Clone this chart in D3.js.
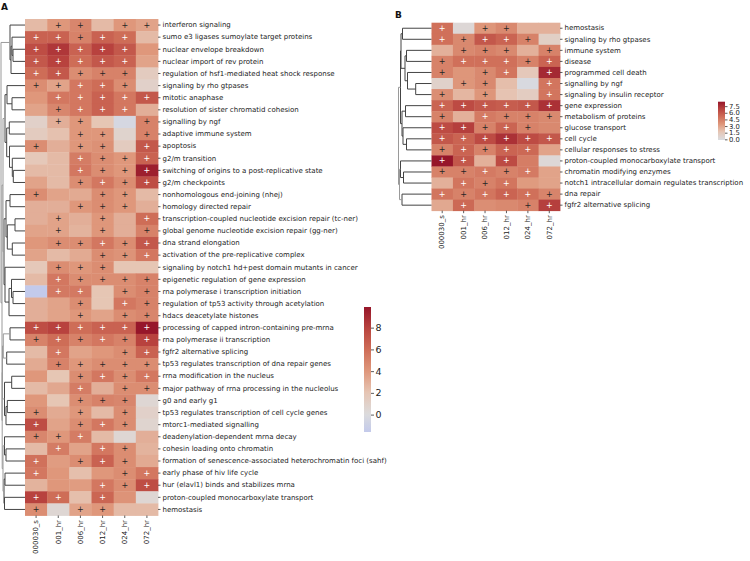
<!DOCTYPE html>
<html><head><meta charset="utf-8">
<script src="https://cdn.jsdelivr.net/npm/d3@7"></script>
<style>body{margin:0;background:#fff} svg{font-family:"DejaVu Sans",sans-serif}</style>
</head><body><svg id="c" width="750" height="561"></svg>
<script>
const timepoints = ["000030_s","001_hr","006_hr","012_hr","024_hr","072_hr"];

const pathwaysA = [
"interferon signaling","sumo e3 ligases sumoylate target proteins","nuclear envelope breakdown",
"nuclear import of rev protein","regulation of hsf1-mediated heat shock response","signaling by rho gtpases",
"mitotic anaphase","resolution of sister chromatid cohesion","signalling by ngf","adaptive immune system",
"apoptosis","g2/m transition","switching of origins to a post-replicative state","g2/m checkpoints",
"nonhomologous end-joining (nhej)","homology directed repair",
"transcription-coupled nucleotide excision repair (tc-ner)","global genome nucleotide excision repair (gg-ner)",
"dna strand elongation","activation of the pre-replicative complex",
"signaling by notch1 hd+pest domain mutants in cancer","epigenetic regulation of gene expression",
"rna polymerase i transcription initiation","regulation of tp53 activity through acetylation",
"hdacs deacetylate histones","processing of capped intron-containing pre-mrna","rna polymerase ii transcription",
"fgfr2 alternative splicing","tp53 regulates transcription of dna repair genes","rrna modification in the nucleus",
"major pathway of rrna processing in the nucleolus","g0 and early g1",
"tp53 regulates transcription of cell cycle genes","mtorc1-mediated signalling",
"deadenylation-dependent mrna decay","cohesin loading onto chromatin",
"formation of senescence-associated heterochromatin foci (sahf)","early phase of hiv life cycle",
"hur (elavl1) binds and stabilizes mrna","proton-coupled monocarboxylate transport","hemostasis"];

const valuesA = [
[2.5,4.0,4.8,2.5,4.0,3.5],[6.5,6.5,5.0,6.5,6.0,2.5],[7.5,8.5,6.5,8.0,7.0,4.0],[7.0,8.0,6.0,7.0,6.5,3.5],
[6.0,7.0,4.5,5.0,5.0,1.5],[4.5,3.5,5.5,6.0,4.5,1.0],[4.0,5.5,5.5,6.5,5.5,7.0],[3.5,4.8,5.5,6.5,5.5,3.0],
[1.0,3.0,4.0,2.0,-0.4,5.0],[1.5,2.2,4.0,4.0,0.8,5.0],[4.5,3.0,4.0,4.3,1.5,7.0],[1.8,2.5,5.3,4.5,4.0,6.5],
[2.5,2.5,5.5,4.5,4.0,9.5],[3.5,2.5,4.5,5.5,4.5,7.5],[4.5,3.5,3.2,4.5,4.0,2.5],[3.0,3.0,4.0,4.5,4.0,3.0],
[3.0,3.5,3.0,4.0,3.0,6.0],[3.5,3.5,2.8,4.0,3.0,5.0],[4.0,4.5,4.5,5.5,4.5,7.0],[3.5,2.5,3.2,4.5,4.2,5.5],
[1.8,4.5,4.0,4.5,2.0,2.0],[2.5,5.5,4.5,4.5,4.5,5.0],[-1.6,5.4,5.4,2.0,4.5,5.0],[3.0,3.5,4.5,2.0,5.5,5.0],
[3.0,3.5,4.0,3.5,4.5,4.8],[7.5,8.0,6.0,6.5,6.5,9.9],[5.0,6.0,5.0,5.5,5.0,8.0],[2.5,5.5,3.5,4.0,4.5,6.5],
[3.2,5.0,4.0,4.5,4.5,4.5],[4.0,2.0,4.5,5.5,4.5,5.5],[2.5,3.3,5.3,3.0,4.5,4.5],[4.0,2.0,4.5,5.0,4.8,0.5],
[4.5,3.2,4.0,2.5,4.5,1.0],[7.5,3.5,4.5,5.5,4.5,0.7],[4.8,4.0,5.3,2.5,0.5,3.0],[2.5,5.3,3.5,5.5,4.5,2.8],
[5.8,3.8,4.5,6.5,4.5,3.2],[5.5,4.0,2.3,4.0,4.5,5.5],[2.8,4.0,3.8,5.5,4.5,7.5],[8.0,6.0,2.3,6.3,4.2,0.5],
[4.5,0.5,3.5,4.0,2.5,2.5]];

const plusA = [
[0,1,1,0,1,1],[1,1,1,1,1,0],[1,1,1,1,1,0],[1,1,1,1,1,0],[1,1,1,1,1,0],[1,1,1,1,1,0],[0,1,1,1,1,1],
[0,1,1,1,1,0],[0,1,1,0,0,1],[0,0,1,1,0,1],[1,0,1,1,0,1],[0,0,1,1,1,1],[0,0,1,1,1,1],[0,0,1,1,1,1],
[1,0,0,1,1,0],[0,0,1,1,1,0],[0,1,0,1,0,1],[0,1,0,1,0,1],[0,1,1,1,1,1],[0,0,0,1,1,1],[0,1,1,1,0,0],
[0,1,1,1,1,1],[0,1,1,0,1,1],[0,0,1,0,1,1],[0,0,1,0,1,1],[1,1,1,1,1,1],[1,1,1,1,1,1],[0,1,0,0,1,1],
[0,1,1,1,1,1],[0,0,1,1,1,1],[0,0,1,0,1,1],[0,0,1,1,1,0],[1,0,1,0,1,0],[1,0,1,1,1,0],[1,1,1,0,0,0],
[0,1,0,1,1,0],[1,0,1,1,1,0],[1,0,0,0,1,1],[0,0,0,1,1,1],[1,1,0,1,0,0],[1,0,1,1,0,0]];

// dendrogram: [height, left, right]; leaves are row indices
const treeA = [24,
  [15, 0, [14, [13, 1, [12, 2, 3]], 4]],
  [23,
    [22,
      [20, [18, 5, [13, 6, 7]], [18.3, [15.7, 8, 9], [15.5, 10, [12.7, 11, [11.7, 12, 13]]]]],
      [21, [19, [15, 14, 15], [17.7, [10, 16, 17], [12.7, 18, 19]]], [20, 20, [16, [13.5, 21, [12, 22, 23]], 24]]]],
    [22.8,
      [22.5, [21.7, [15, 25, 26], [18.3, 27, 28]], [20.5, [13.3, 29, 30], [19, [17.7, 31, 32], 33]]],
      [22, [20.5, 34, [19, 35, 36]], [21, [20, 37, 38], [20.5, 39, 40]]]]]];

const pathwaysB = [
"hemostasis","signaling by rho gtpases","immune system","disease","programmed cell death",
"signalling by ngf","signaling by insulin receptor","gene expression","metabolism of proteins",
"glucose transport","cell cycle","cellular responses to stress","proton-coupled monocarboxylate transport",
"chromatin modifying enzymes","notch1 intracellular domain regulates transcription","dna repair",
"fgfr2 alternative splicing"];

const valuesB = [
[5.0,0.3,3.5,4.0,2.5,2.5],[5.0,4.0,6.0,5.5,4.3,1.0],[2.5,4.0,4.3,4.0,2.5,4.3],[4.3,5.0,5.0,5.0,4.3,5.5],
[4.3,3.5,4.0,4.8,1.5,7.8],[0.8,3.5,4.0,2.0,-0.15,4.8],[3.8,2.3,3.5,1.8,1.2,4.8],[5.5,6.5,6.0,5.8,6.0,7.5],
[4.3,2.5,4.6,4.3,4.3,4.0],[6.5,7.0,4.3,5.5,4.3,4.0],[6.0,5.5,6.5,7.5,6.5,6.0],[4.3,5.5,4.3,5.5,5.3,3.0],
[8.5,6.0,2.5,6.5,4.5,0.3],[4.3,4.3,4.6,4.3,4.6,3.0],[2.5,4.8,4.3,4.8,3.3,3.0],[4.8,4.3,4.8,5.5,5.0,4.2],
[2.8,5.3,3.8,4.0,4.3,7.0]];

const plusB = [
[1,0,1,1,0,0],[1,1,1,1,1,0],[0,1,1,1,0,1],[1,1,1,1,1,1],[1,0,1,1,0,1],[0,1,1,0,0,1],[1,0,1,0,0,1],
[1,1,1,1,1,1],[1,0,1,1,1,1],[1,1,1,1,1,0],[1,1,1,1,1,1],[1,1,1,1,1,0],[1,1,0,1,0,0],[1,1,1,1,1,0],
[0,1,1,1,0,0],[1,1,1,1,1,1],[0,1,0,0,1,1]];

const treeB = [33,
  [31,
    [30.5, [29, 0, 1], [26.5, [25, 2, 3], [24, 4, [15.8, 5, 6]]]],
    [29.5, [26, 7, 8], [28.5, 9, [25, 10, 11]]]],
  [32, [31, 12, [28, 13, 14]], [29.5, 15, 16]]];

const ticksA = [0, 2, 4, 6, 8];
const ticksB = [0.0, 1.5, 3.0, 4.5, 6.0, 7.5];

// ---- muted coolwarm-like diverging colormap (as seen in the figure)
const cmStops = [[0,[59,76,192]],[0.25,[141,176,254]],[0.42,[195,202,235]],[0.5,[219,219,221]],
  [0.6,[230,198,181]],[0.7,[223,152,124]],[0.8,[207,110,88]],[0.9,[185,68,63]],[1,[150,22,42]]];
function cmap(t){
  t = Math.max(0, Math.min(1, t));
  let i = 0; while (i < cmStops.length-2 && t > cmStops[i+1][0]) i++;
  const [t0,a] = cmStops[i], [t1,b] = cmStops[i+1], f = (t-t0)/(t1-t0);
  return [0,1,2].map(k => a[k] + (b[k]-a[k])*f);
}
const svg = d3.select("#c");

function panel(o){
  const g = svg.append("g");
  const flat = o.values.flat();
  const [vmin, vmax] = d3.extent(flat);
  const vr = Math.max(Math.abs(vmin), Math.abs(vmax));
  const tOf = v => 0.5 + v/(2*vr);
  const col = v => { const c = cmap(tOf(v)); return `rgb(${c.map(Math.round).join(",")})`; };

  const x = d3.scaleBand().domain(timepoints).range(o.xr);
  const y = d3.scaleBand().domain(o.rows).range(o.yr);

  o.values.forEach((row, i) => row.forEach((v, j) => {
    g.append("rect").attr("x", x(timepoints[j])).attr("y", y(o.rows[i]))
      .attr("width", x.bandwidth()+0.4).attr("height", y.bandwidth()+0.4).attr("fill", col(v));
    if (o.plus[i][j]) {
      const dark = tOf(v) < 0.765;
      g.append("text").attr("x", x(timepoints[j]) + x.bandwidth()/2).attr("y", y(o.rows[i]) + y.bandwidth()/2)
        .attr("text-anchor","middle").attr("dominant-baseline","central")
        .attr("font-size", o.plusSize).attr("fill", dark ? "#262626" : "#ffffff").text("+");
    }
  }));

  // row labels
  const ay = g.append("g").attr("transform", `translate(${o.xr[1]},0)`)
    .call(d3.axisRight(y).tickSize(2.5).tickPadding(2));
  ay.select(".domain").remove();
  ay.selectAll("line").attr("stroke","#333").attr("stroke-width",0.8);
  ay.selectAll("text").attr("font-size", o.fs).attr("fill","#222").attr("font-family","DejaVu Sans");

  // column labels
  const ax = g.append("g").attr("transform", `translate(0,${o.yr[1]})`)
    .call(d3.axisBottom(x).tickSize(2.5).tickPadding(2));
  ax.select(".domain").remove();
  ax.selectAll("line").attr("stroke","#333").attr("stroke-width",0.8);
  ax.selectAll("text").attr("font-size", o.fs).attr("fill","#222").attr("font-family","DejaVu Sans")
    .attr("transform","rotate(-90)").attr("text-anchor","end").attr("dy","0.32em")
    .attr("x", -4.5).attr("y", 0);

  // dendrogram
  const hx = d3.scaleLinear().domain([0, o.tree[0]]).range([o.xr[0], o.dx0]);
  function walk(n){
    if (!Array.isArray(n)) return {y: y(o.rows[n]) + y.bandwidth()/2, h: 0};
    const a = walk(n[1]), b = walk(n[2]);
    g.append("path").attr("fill","none")
      .attr("stroke", n[0] >= o.lightH ? "#9a9a9a" : "#444").attr("stroke-width", 1)
      .attr("d", `M${hx(a.h)},${a.y}H${hx(n[0])}V${b.y}H${hx(b.h)}`);
    return {y: (a.y + b.y)/2, h: n[0]};
  }
  walk(o.tree);

  // colorbar
  const cy = d3.scaleLinear().domain([vmin, vmax]).range([o.cb.y1, o.cb.y0]);
  const gid = "grad" + o.id;
  const grad = svg.append("defs").append("linearGradient").attr("id", gid)
    .attr("x1",0).attr("y1",1).attr("x2",0).attr("y2",0);
  d3.range(0, 61).forEach(k => {
    const v = vmin + (vmax - vmin)*k/60;
    grad.append("stop").attr("offset", k/60).attr("stop-color", col(v));
  });
  g.append("rect").attr("x", o.cb.x).attr("y", o.cb.y0).attr("width", o.cb.w)
    .attr("height", o.cb.y1 - o.cb.y0).attr("fill", `url(#${gid})`);
  const ac = g.append("g").attr("transform", `translate(${o.cb.x + o.cb.w},0)`)
    .call(d3.axisRight(cy).tickValues(o.ticks).tickFormat(o.tf).tickSize(o.cb.ts).tickPadding(1.5));
  ac.select(".domain").remove();
  ac.selectAll("line").attr("stroke","#333").attr("stroke-width",0.8);
  ac.selectAll("text").attr("font-size", o.cb.fs).attr("fill","#222").attr("font-family","DejaVu Sans");

  svg.append("text").attr("x", o.letter[0]).attr("y", o.letter[1]).attr("font-size", 9)
    .attr("font-weight","bold").attr("fill","#111").text(o.id);
}

panel({id:"A", rows: pathwaysA, values: valuesA, plus: plusA, tree: treeA,
  xr:[25,158], yr:[19,515.5], dx0: 1, lightH: 21.5, fs: 7, plusSize: 8,
  cb:{x:364, w:7, y0:307, y1:432, ts:3, fs:9.5}, ticks: ticksA, tf: d3.format("d"), letter:[1,10]});

panel({id:"B", rows: pathwaysB, values: valuesB, plus: plusB, tree: treeB,
  xr:[431.5,560], yr:[22.7,210.7], dx0: 398.5, lightH: 31.5, fs: 7, plusSize: 8,
  cb:{x:718, w:7, y0:101.7, y1:140, ts:2.5, fs:6.8}, ticks: ticksB, tf: d3.format(".1f"), letter:[395,18]});
</script></body></html>
